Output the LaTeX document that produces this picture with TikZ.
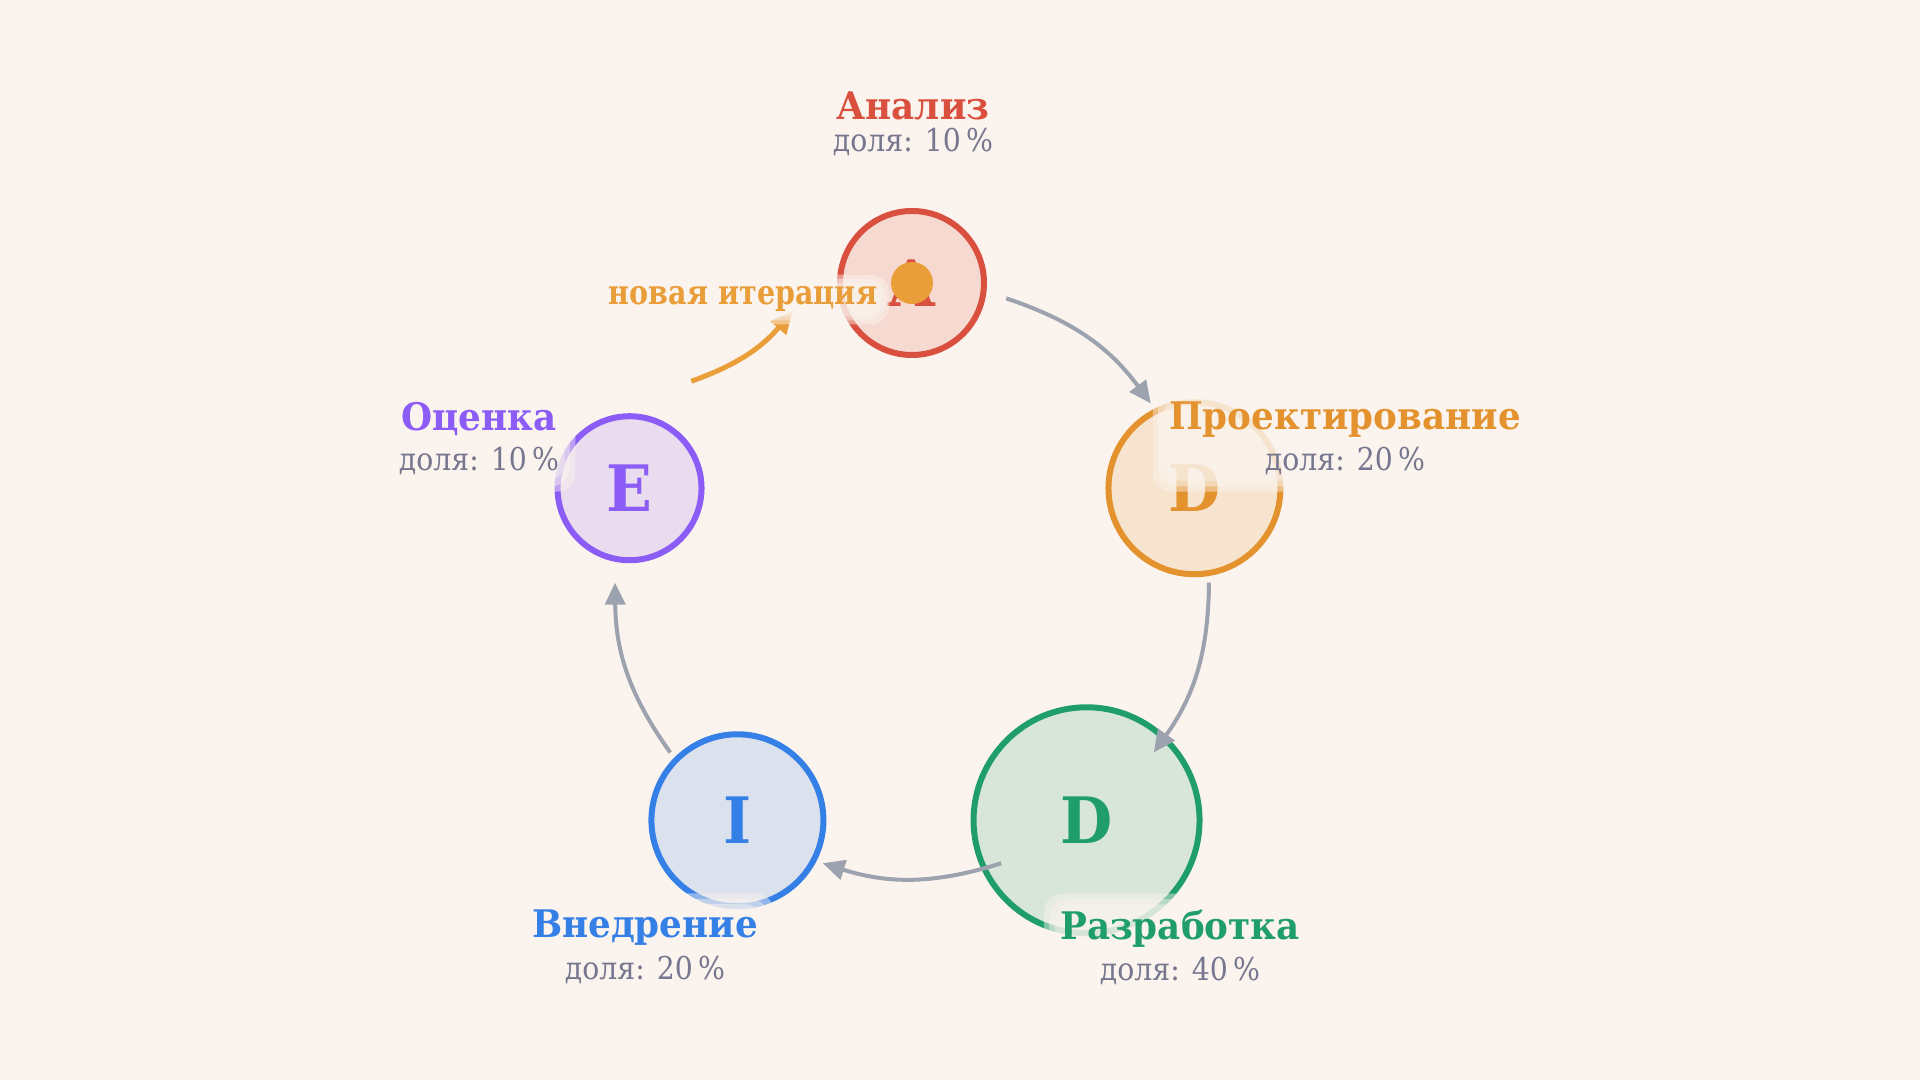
\documentclass[tikz,border=0pt]{standalone}
\usepackage{fontspec}
\setmainfont{DejaVu Serif}
\newfontfamily\titlefont[FakeStretch=0.94]{DejaVu Serif}
\newfontfamily\sharefont[FakeStretch=0.9]{DejaVu Serif}
\newfontfamily\iterfont[FakeStretch=0.84]{DejaVu Serif}
\usetikzlibrary{positioning,arrows.meta,fit}
\definecolor{bg}{HTML}{FBF4EE}
\definecolor{red}{HTML}{D9503F}
\definecolor{orange}{HTML}{E3922E}
\definecolor{green}{HTML}{1F9E6B}
\definecolor{blue}{HTML}{3580E6}
\definecolor{purple}{HTML}{8B5CF6}
\definecolor{flowgrey}{HTML}{9CA3AF}
\definecolor{sharegrey}{HTML}{76768F}
\definecolor{dotorange}{HTML}{E99E3A}
\pgfdeclarelayer{front}
\pgfsetlayers{main,front}
\begin{document}
\begin{tikzpicture}
		[x=0.75pt,y=0.75pt,
			stage/.style={circle,draw=#1,fill=#1!16!bg,text=#1,line width=4.5pt,inner sep=0pt,
				font=\titlefont\fontsize{48}{48}\selectfont\bfseries},
			halo/.style={fill=bg,fill opacity=0.45,rounded corners=14pt,inner sep=#1},
			title/.style={text=#1,inner sep=0pt,text depth=0pt,font=\titlefont\fontsize{28.5}{28.5}\selectfont\bfseries},
			share/.style={text=sharegrey,inner sep=0pt,font=\sharefont\fontsize{23.6}{23.6}\selectfont},
			flow/.style={draw=flowgrey,line width=3pt,-{Triangle[length=16.5pt,width=15pt]}},
			again/.style={draw=dotorange,line width=3.75pt,-{Triangle[length=16.5pt,width=15pt]}}]
	\useasboundingbox[fill=bg] (-912,-500) rectangle (1008,580);
	% stages on the cycle
	\foreach \n/\ang/\d/\col/\ltr in {A/90/108pt/red/A,P/18/129pt/orange/D,D/-54/169.5pt/green/D,I/-126/129pt/blue/I,E/162/108pt/purple/E}
	{
		\node[stage=\col,minimum size=\d] (\n) at (\ang:297) {\ltr};
		\coordinate (\n-in) at (\ang+18.5:297);
		\coordinate (\n-out) at (\ang-18.5:297);
	}
	\coordinate (E-again) at (138:297);
	\coordinate (A-again) at (114:294);
	\draw[flow] (A-out) to[bend left=17.5] (P-in);
	\draw[flow] (P-out) to[bend left=17.5] (D-in);
	\draw[flow] (D-out) to[bend left=17.5] (I-in);
	\draw[flow] (I-out) to[bend left=17.5] (E-in);
	\draw[again] (E-again) to[bend right=15] (A-again);
	% labels, with a soft halo under each
	\foreach \n/\x/\y/\gap/\col/\title/\share in {A/1/428/24pt/red/Анализ/доля: 10\,\%,P/433/109/30.75pt/orange/Проектирование/доля: 20\,\%,D/268/-400/30pt/green/Разработка/доля: 40\,\%,I/-267/-399/30.75pt/blue/Внедрение/доля: 20\,\%,E/-433/109/30pt/purple/Оценка/доля: 10\,\%}
	{
		\begin{pgfonlayer}{front}
			\node[share,text height=\gap,anchor=base] (s\n) at (\x,\y) {\share};
			\node[title=\col,above=0pt of s\n] (t\n) {\title};
		\end{pgfonlayer}
		\foreach \pad in {4pt,8pt,12pt}
			\node[halo=\pad,fit=(s\n)(t\n)] {};
	}
	\begin{pgfonlayer}{front}
		\node[inner sep=0pt,text=dotorange,anchor=base,font=\iterfont\fontsize{25.5}{25.5}\selectfont\bfseries] (iter) at (-169,275) {новая итерация};
	\end{pgfonlayer}
	\foreach \pad in {3pt,6pt,9pt}
		\node[halo=\pad,fit=(iter)] {};
	\node[circle,fill=dotorange,minimum size=31.5pt,inner sep=0pt] (dot) at (A) {};
\end{tikzpicture}
\end{document}
